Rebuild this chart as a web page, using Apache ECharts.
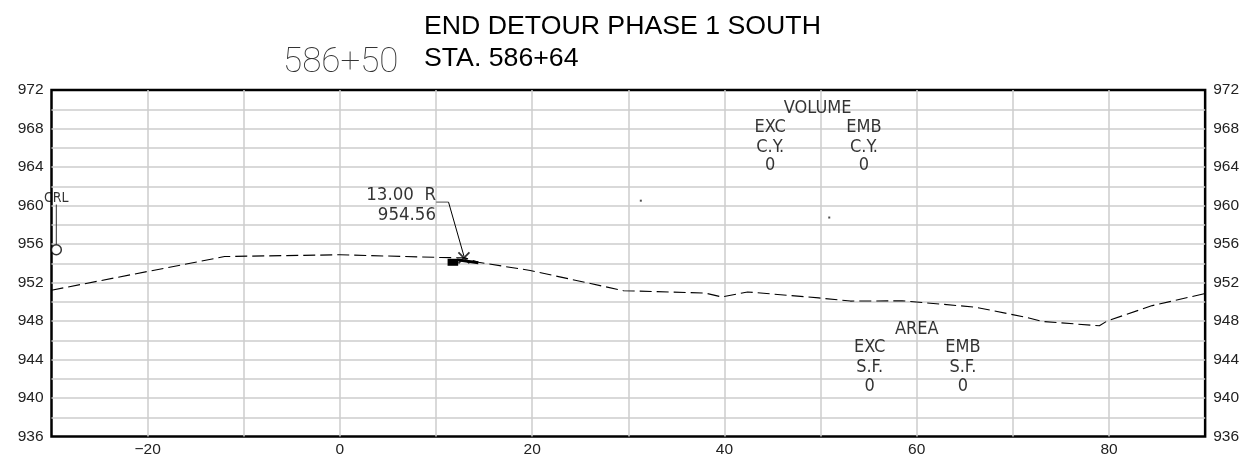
<!DOCTYPE html>
<html><head><meta charset="utf-8">
<style>html,body{margin:0;padding:0;background:#fff}#c{width:1242px;height:465px}</style>
<script src="https://cdn.jsdelivr.net/npm/echarts@6/dist/echarts.min.js"></script>
</head><body><div id="c"></div>
<script>
const groundLine = [[-30,951.2],[-12,954.7],[0,954.88],[10.5,954.6],[13,954.56],[14.4,954.1],[19.8,953.25],[29.5,951.15],[38,950.9],[39.7,950.5],[42.4,951.02],[49.8,950.4],[53.1,950.07],[58.5,950.1],[66,949.45],[71.3,948.4],[73,947.96],[79,947.5],[79.8,948],[84.5,949.6],[90,950.85]];
const leaderShelf = [[10,960.35],[11.3,960.35]];
const calloutLeader = [[11.3,960.35],[12.9,954.75]];
const crlLeader = [[-29.5,960.1],[-29.5,956]];
const blockSegment = [[11.2,954.1],[12.3,954.1]];
const thickSegment = [[12.2,954.35],[14.4,954.05]];
const xMark = [[12.9,954.56]];
const crlCircle = [[-29.5,955.4]];
const specks = [[31.3,960.5],[50.9,958.75]];
const centerLabels = [[49.7,970.08,'VOLUME'],[44.75,968.08,'EXC'],[54.5,968.08,'EMB'],[44.75,966.03,'C.Y.'],[54.5,966.03,'C.Y.'],[44.75,964.18,'0'],[54.5,964.18,'0'],
  [60,947.18,'AREA'],[55.1,945.23,'EXC'],[64.8,945.23,'EMB'],[55.1,943.18,'S.F.'],[64.8,943.18,'S.F.'],[55.1,941.18,'0'],[64.8,941.18,'0']];
const rightLabels = [[10,961.03,'13.00  R'],[10,958.95,'954.56']];
const crlLabel = [[-29.5,960.73,'CRL']];
const titleLines = ['END DETOUR PHASE 1 SOUTH','STA. 586+64'];
const stationLabel = '586+50';

const tickFont = '"Liberation Sans",sans-serif';
const cond = '"DejaVu Sans Condensed","DejaVu Sans",sans-serif';
const gridLine = {show:true,showMinLine:false,showMaxLine:false,lineStyle:{color:'#cccccc',width:1.5}};
const yFmt = v => (v % 4 === 0 ? String(v) : '');
const xFmt = v => (v % 20 === 0 && v > -30 && v < 90 ? String(v).replace('-','\u2212') : '');
const yAxisBase = {type:'value',min:936,max:972,interval:2,splitLine:gridLine,axisLine:{show:false},axisTick:{show:false},
  axisLabel:{formatter:yFmt,color:'#222',fontFamily:tickFont,fontSize:15.5,margin:8,showMinLabel:true,showMaxLabel:true}};
function textSeries(data,align,size){
  return {type:'scatter',data:data,symbolSize:0,silent:true,clip:false,z:6,
    encode:{x:0,y:1},
    label:{show:true,position:'inside',align:align,verticalAlign:'middle',color:'#000',fontFamily:cond,fontSize:size,
      formatter:p=>p.value[2]}};
}
function poly(data,width,color){
  return {type:'line',data:data,symbol:'none',silent:true,clip:false,z:5,
    lineStyle:{color:color||'#000',width:width}};
}
const chart = echarts.init(document.getElementById('c'),null,{renderer:'canvas'});
chart.setOption({
  animation:false,backgroundColor:'#fff',
  title:[
    {text:titleLines[0],left:419,top:8,textStyle:{fontFamily:'"Liberation Sans"',fontSize:26.7,fontWeight:'normal',color:'#000'}},
    {text:titleLines[1],left:419,top:40,textStyle:{fontFamily:'"Liberation Sans"',fontSize:26.7,fontWeight:'normal',color:'#000'}},
    {text:stationLabel,left:278,top:41,textStyle:{fontFamily:'Roboto',fontSize:35,fontWeight:100,color:'#333'}}
  ],
  grid:{left:51.5,right:36,top:90,bottom:28.5,show:true,borderColor:'#000',borderWidth:2.5,backgroundColor:'transparent',containLabel:false},
  xAxis:{type:'value',min:-30,max:90,interval:10,splitLine:gridLine,axisLine:{show:false},axisTick:{show:false},
    axisLabel:{formatter:xFmt,color:'#222',fontFamily:tickFont,fontSize:15.5,margin:5}},
  yAxis:[Object.assign({},yAxisBase,{position:'left'}),Object.assign({},yAxisBase,{position:'right',splitLine:{show:false}})],
  series:[
    Object.assign(poly(groundLine,1.1),{lineStyle:{color:'#000',width:1.1,type:[12,5]}}),
    poly(leaderShelf,1.5,'#888'),
    poly(calloutLeader,1),
    poly(crlLeader,1,'#333'),
    poly(blockSegment,7),
    poly(thickSegment,3),
    {type:'scatter',data:xMark,symbol:'path://M0 0L10 10M10 0L0 10',symbolSize:11,silent:true,z:6,
      itemStyle:{color:'none',borderColor:'#000',borderWidth:1.8}},
    {type:'scatter',data:crlCircle,symbol:'circle',symbolSize:10,silent:true,clip:false,z:6,
      itemStyle:{color:'#fff',borderColor:'#000',borderWidth:1.5}},
    {type:'scatter',data:specks,symbol:'rect',symbolSize:2,silent:true,z:6,itemStyle:{color:'#222'}},
    textSeries(centerLabels,'center',18),
    textSeries(rightLabels,'right',18.5),
    textSeries(crlLabel,'center',14)
  ]
});
</script></body></html>
